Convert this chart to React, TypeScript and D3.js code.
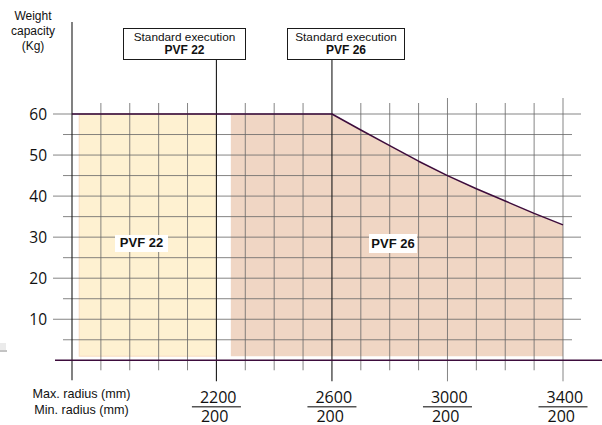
import * as d3 from "d3"

// radius in mm on the x axis, capacity in kg on the y axis
const MINOR_X = [1800, 1900, 2000, 2100, 2300, 2400, 2500, 2700, 2800, 2900, 3100, 3200, 3300]
const LONG_X = [3000, 3400]
const MODEL_X = [2200, 2600]
const MAJOR_Y = [10, 20, 30, 40, 50, 60]
const MINOR_Y = [5, 15, 25, 35, 45, 55]

const FRACTIONS = [
  { max: 2200, min: 200 },
  { max: 2600, min: 200 },
  { max: 3000, min: 200 },
  { max: 3400, min: 200 },
]

// PVF 22: constant 60 kg up to 2200 mm
const PVF22_FILL = { from: 1725, to: 2200, low: 1, high: 60 }
// PVF 26 capacity curve
const PVF26_RADIUS = [2250, 2600, 2700, 2800, 2900, 3000, 3100, 3200, 3300, 3400]
const PVF26_KG = [60, 60, 56.1, 52.3, 48.5, 45, 41.8, 38.8, 35.8, 33]
const PVF26_LOW = 1

// capacity limit line (PVF 22 flat + PVF 26 curve)
const LIMIT_RADIUS = [1700, 2600, 2700, 2800, 2900, 3000, 3100, 3200, 3300, 3400]
const LIMIT_KG = [60, 60, 56.1, 52.3, 48.5, 45, 41.8, 38.8, 35.8, 33]

const W = 602
const H = 425
const GRID = "#666"
const PURPLE = "#3d0c3c"
const SANS = "Liberation Sans, Arial, sans-serif"
const NUM = "Open Sans, sans-serif"

export default function App() {
  const x = d3.scaleLinear().domain([1700, 3400]).range([72, 563])
  const y = d3.scaleLinear().domain([0, 60]).range([360.3, 114])

  const x0 = x(1700)
  const xEnd = x(3400)
  const yTop = y(60)
  const yBase = y(0)

  const area26 = d3
    .area<number>()
    .x((_, i) => x(PVF26_RADIUS[i]))
    .y0(y(PVF26_LOW))
    .y1((d) => y(d))(PVF26_KG)

  const limit = d3
    .line<number>()
    .x((_, i) => x(LIMIT_RADIUS[i]))
    .y((d) => y(d))(LIMIT_KG)

  return (
    <svg
      width={W}
      height={H}
      viewBox={`0 0 ${W} ${H}`}
      style={{ position: "absolute", left: 0, top: 0, background: "#fff" }}
    >
      {/* fills */}
      <rect
        x={x(PVF22_FILL.from)}
        y={y(PVF22_FILL.high)}
        width={x(PVF22_FILL.to) - x(PVF22_FILL.from)}
        height={y(PVF22_FILL.low) - y(PVF22_FILL.high)}
        fill="#fef1d1"
        stroke="#f8dcc2"
        strokeWidth={1}
      />
      <path d={area26 ?? undefined} fill="#f0d6c4" />

      {/* horizontal grid */}
      <g stroke={GRID} strokeWidth={1} strokeOpacity={0.8}>
        {MAJOR_Y.map((v) => (
          <line key={v} x1={x0 - 19} x2={xEnd + 18} y1={y(v)} y2={y(v)} />
        ))}
        {MINOR_Y.map((v) => (
          <line key={v} x1={x0 - 9} x2={xEnd + 9} y1={y(v)} y2={y(v)} />
        ))}
      </g>

      {/* vertical grid */}
      <g stroke={GRID} strokeWidth={1} strokeOpacity={0.8}>
        {MINOR_X.map((v) => (
          <line key={v} x1={x(v)} x2={x(v)} y1={yTop - 11} y2={yBase + 10} />
        ))}
        {LONG_X.map((v) => (
          <line key={v} x1={x(v)} x2={x(v)} y1={yTop - 16} y2={yBase + 21} />
        ))}
      </g>

      {/* axis + model lines */}
      <line x1={x0} x2={x0} y1={22} y2={yBase + 20} stroke="#1a1a1a" strokeWidth={1.1} />
      {MODEL_X.map((v) => (
        <line key={v} x1={x(v)} x2={x(v)} y1={60} y2={yBase + 21} stroke="#1a1a1a" strokeWidth={1.1} />
      ))}

      {/* limit line and baseline */}
      <path d={limit ?? undefined} fill="none" stroke={PURPLE} strokeWidth={1.5} strokeLinejoin="round" />
      <line x1={x0 - 17} x2={W} y1={yBase} y2={yBase} stroke={PURPLE} strokeWidth={1.6} />

      {/* y tick labels */}
      {MAJOR_Y.map((v) => (
        <text key={v} x={47} y={y(v) + 5.5} textAnchor="end" fontFamily={NUM} fontSize={15.5} fill="#111">
          {v}
        </text>
      ))}

      {/* y title */}
      <g fontFamily={SANS} fontSize={12} fill="#111" textAnchor="middle">
        <text x={33} y={19.5}>Weight</text>
        <text x={33} y={35}>capacity</text>
        <text x={33} y={50}>(Kg)</text>
      </g>

      {/* standard execution boxes */}
      <g>
        <rect x={123.5} y={28.5} width={122} height={31} fill="#fff" stroke="#1a1a1a" strokeWidth={1} />
        <text x={184.5} y={41} textAnchor="middle" fontFamily={SANS} fontSize={11.8} fill="#111">
          Standard execution
        </text>
        <text x={184.5} y={53.5} textAnchor="middle" fontFamily={SANS} fontSize={12} fontWeight={700} fill="#111">
          PVF 22
        </text>
        <rect x={287.5} y={28.5} width={117} height={31} fill="#fff" stroke="#1a1a1a" strokeWidth={1} />
        <text x={346} y={41} textAnchor="middle" fontFamily={SANS} fontSize={11.8} fill="#111">
          Standard execution
        </text>
        <text x={346} y={53.5} textAnchor="middle" fontFamily={SANS} fontSize={12} fontWeight={700} fill="#111">
          PVF 26
        </text>
      </g>

      {/* area labels */}
      <rect x={115} y={235} width={53} height={17} fill="#fff" />
      <text x={141.5} y={247} textAnchor="middle" fontFamily={SANS} fontSize={13} fontWeight={700} fill="#111">
        PVF 22
      </text>
      <rect x={369} y={234} width={48} height={19} fill="#fff" />
      <text x={393} y={247.5} textAnchor="middle" fontFamily={SANS} fontSize={13} fontWeight={700} fill="#111">
        PVF 26
      </text>

      {/* x axis captions */}
      <g fontFamily={SANS} fontSize={12.6} fill="#111" textAnchor="middle">
        <text x={81.5} y={398}>Max. radius (mm)</text>
        <text x={81.5} y={414}>Min. radius (mm)</text>
      </g>
      {FRACTIONS.map((f) => {
        const cx = x(f.max)
        return (
          <g key={f.max} fontFamily={NUM} fontSize={16} fill="#111">
            <text x={cx - 16.5} y={403}>{f.max}</text>
            <line x1={cx - 24.5} x2={cx + 24.5} y1={406.7} y2={406.7} stroke="#555" strokeWidth={1.6} />
            <text x={cx - 15.5} y={421.5}>{f.min}</text>
          </g>
        )
      })}

      {/* stray mark at the left edge */}
      <line x1={0} x2={7} y1={351} y2={351} stroke="#888" strokeWidth={1} />
      <rect x={0} y={343} width={6} height={7} fill="#ddd" opacity={0.6} />
    </svg>
  )
}
